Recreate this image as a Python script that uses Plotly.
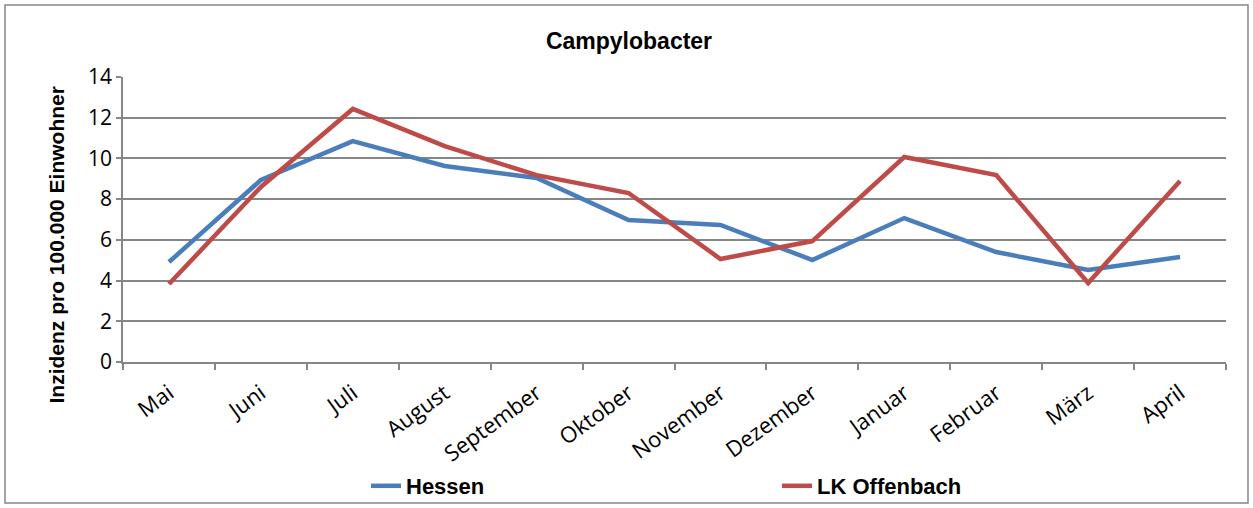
import plotly.graph_objects as go

months = ["Mai", "Juni", "Juli", "August", "September", "Oktober", "November",
          "Dezember", "Januar", "Februar", "März", "April"]
hessen = [4.91, 8.94, 10.85, 9.63, 9.04, 6.97, 6.73, 5.01, 7.07, 5.40, 4.52, 5.16]
lk_offenbach = [3.83, 8.6, 12.43, 10.6, 9.18, 8.3, 5.06, 5.94, 10.07, 9.18, 3.88, 8.89]
y_ticks = [0, 2, 4, 6, 8, 10, 12, 14]

W, H = 1253, 508
L, R, T, B = 123, 27, 77, 146
pw, ph = W - L - R, H - T - B

def px_x(x):
    return (x - L) / pw

def px_y(y):
    return (H - B - y) / ph

fig = go.Figure()
fig.add_trace(go.Scatter(x=months, y=hessen, mode="lines", name="<b>Hessen</b>",
                         line=dict(color="#4A7EBB", width=4.5)))
fig.add_trace(go.Scatter(x=months, y=lk_offenbach, mode="lines", name="<b>LK Offenbach</b>",
                         line=dict(color="#BE4B48", width=4.5)))

fig.update_layout(
    width=W, height=H,
    margin=dict(l=L, r=R, t=T, b=B, autoexpand=False),
    paper_bgcolor="white", plot_bgcolor="white",
    font=dict(family="Liberation Sans", color="black"),
    title=dict(text="<b>Campylobacter</b>", font=dict(size=23, family="Liberation Sans"),
               x=629 / W, xref="container", xanchor="center",
               y=1 - 41 / H, yref="container", yanchor="middle"),
    xaxis=dict(type="category", showgrid=False, showline=True, linecolor="#868686",
               linewidth=1.5, ticks="outside", tickson="boundaries", ticklen=6,
               tickcolor="#868686", tickwidth=1.5, tickangle=-36,
               ticklabelstandoff=8,
               tickfont=dict(size=22, family="Open Sans"), range=[-0.5, 11.5]),
    yaxis=dict(range=[0, 14], tickvals=y_ticks, showgrid=True, gridcolor="#868686",
               gridwidth=1.5, showline=True, linecolor="#868686", linewidth=1.5,
               ticks="outside", ticklen=5, tickcolor="#868686", tickwidth=1.5,
               tickfont=dict(size=21, family="Open Sans"), zeroline=False),
    showlegend=True,
    legend=dict(orientation="h", x=px_x(366), y=px_y(486), xanchor="left", yanchor="middle",
                entrywidth=366, entrywidthmode="pixels",
                font=dict(size=22, family="Liberation Sans Narrow, Liberation Sans"),
                bgcolor="rgba(0,0,0,0)"),
)

fig.add_annotation(text="<b>Inzidenz pro 100.000 Einwohner</b>", textangle=-90,
                   x=px_x(42), y=px_y(245), xref="paper", yref="paper",
                   showarrow=False, font=dict(size=21, family="Liberation Sans"))

fig.add_shape(type="rect", xref="paper", yref="paper",
              x0=px_x(5), x1=px_x(1248), y0=px_y(503), y1=px_y(5),
              line=dict(color="#868686", width=1.5), fillcolor="rgba(0,0,0,0)", layer="below")

fig.write_html("out.html", config={"displayModeBar": False},
               post_script="document.body.style.margin='0';")
